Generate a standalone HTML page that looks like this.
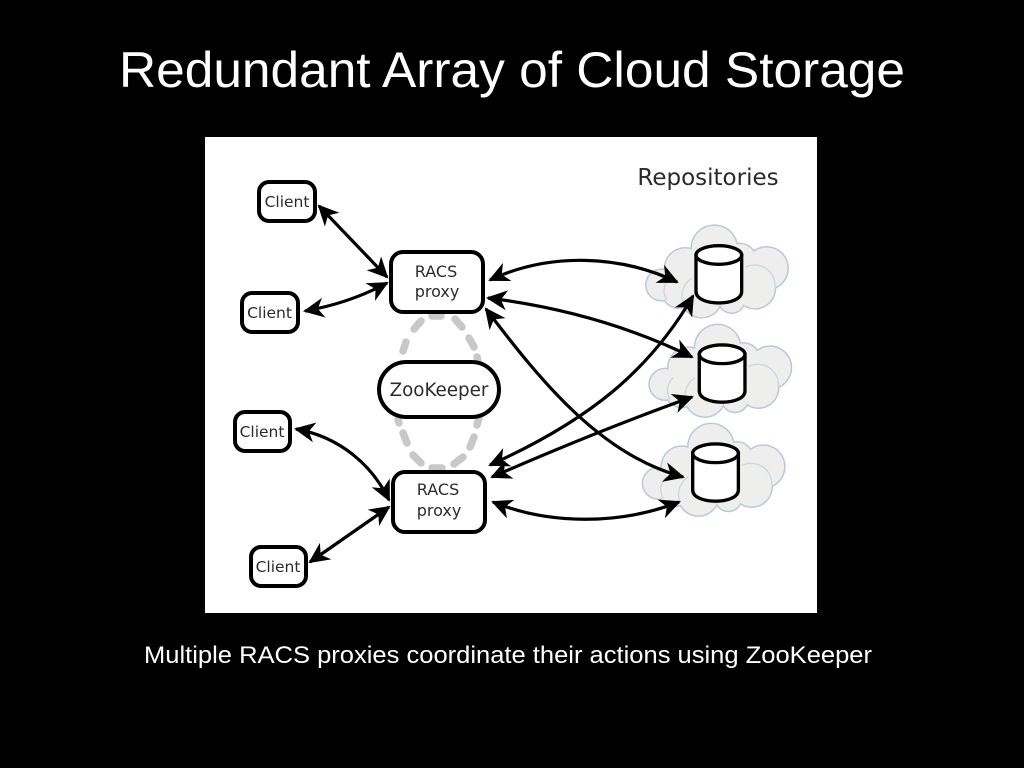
<!DOCTYPE html>
<html>
<head>
<meta charset="utf-8">
<style>
html,body{margin:0;padding:0;background:#000;width:1024px;height:768px;overflow:hidden}
svg{display:block}
.n{fill:#fff;stroke:#000;stroke-width:4}
.t{font-family:"DejaVu Sans",sans-serif;fill:#2b2b2b;text-anchor:middle}
.a{fill:none;stroke:#000;stroke-width:3.2;marker-start:url(#h);marker-end:url(#h)}
.d{stroke:#c8c8c8;stroke-width:7.5;stroke-linecap:round;fill:none}
.o circle{fill:#b9c9dc}
.f circle,.f ellipse{fill:#eeeeec}
.i{fill:none;stroke:#cdd6e0;stroke-width:4}
.cy{fill:#fff;stroke:#000;stroke-width:10}
</style>
</head>
<body>
<svg width="1024" height="768" viewBox="0 0 1024 768" xmlns="http://www.w3.org/2000/svg">
<defs>
<marker id="h" markerUnits="userSpaceOnUse" markerWidth="28" markerHeight="24" viewBox="-24 -12 28 24" refX="0" refY="0" orient="auto-start-reverse">
<path d="M2,0 L-19,-10 L-13,0 L-19,10 Z" fill="#000"/>
</marker>
<g id="cloud">
<g class="o">
<circle cx="283" cy="115" r="72"/>
<circle cx="125" cy="225" r="50"/>
<circle cx="195" cy="175" r="64"/>
<circle cx="360" cy="150" r="52"/>
<circle cx="440" cy="175" r="67"/>
<circle cx="405" cy="235" r="64"/>
<circle cx="175" cy="245" r="52"/>
<circle cx="335" cy="270" r="42"/>
<circle cx="245" cy="262" r="64"/>
</g>
<g class="f">
<circle cx="283" cy="115" r="67.500"/>
<circle cx="125" cy="225" r="45.500"/>
<circle cx="195" cy="175" r="59.500"/>
<circle cx="360" cy="150" r="47.500"/>
<circle cx="440" cy="175" r="62.500"/>
<circle cx="405" cy="235" r="59.500"/>
<circle cx="175" cy="245" r="47.500"/>
<circle cx="335" cy="270" r="37.500"/>
<circle cx="245" cy="262" r="59.500"/>
<ellipse cx="300" cy="200" rx="120" ry="80"/>
</g>
<path class="i" d="M375,172 A62,62 0 0 1 465,235"/>
<path class="i" d="M215,205 A62,62 0 0 0 190,280"/>
<path class="i" d="M150,205 A50,50 0 0 0 140,270"/>
</g>
<g id="cyl">
<path class="cy" d="M228,135 V245 C228,290 365,290 365,245 V135 Z"/>
<ellipse class="cy" cx="296.500" cy="135" rx="68.500" ry="28"/>
</g>
</defs>

<rect x="0" y="0" width="1024" height="768" fill="#000"/>
<text x="119" y="87" font-family="'Liberation Sans',sans-serif" font-size="50" fill="#fff" textLength="786" lengthAdjust="spacingAndGlyphs">Redundant Array of Cloud Storage</text>

<rect x="205" y="137" width="612" height="476" fill="#fff"/>

<g transform="translate(620,210) scale(0.33333)">
<use href="#cloud"/>
<use href="#cyl"/>
</g>
<g transform="translate(623.300,309.300) scale(0.33333)">
<use href="#cloud"/>
<use href="#cyl"/>
</g>
<g transform="translate(616.700,408.300) scale(0.33333)">
<use href="#cloud"/>
<use href="#cyl"/>
</g>

<text class="t" x="708" y="185" font-size="23">Repositories</text>

<g class="d">
<path d="M432,316H441"/>
<path d="M414,329L421,321"/>
<path d="M403,351L406,342"/>
<path d="M455,319L462,327"/>
<path d="M469,338L474,347"/>
<path d="M477,357L478,362"/>
<path d="M398,420L399,423"/>
<path d="M403,433L407,443"/>
<path d="M413,455L421,463"/>
<path d="M432,468H442"/>
<path d="M454,464L463,457"/>
<path d="M470,447L474,437"/>
<path d="M477,425L479,418"/>
</g>

<rect class="n" x="259" y="182" width="56" height="39" rx="10"/>
<text class="t" x="287" y="207" font-size="15.500">Client</text>
<rect class="n" x="242" y="293" width="56" height="39" rx="10"/>
<text class="t" x="269.500" y="318" font-size="15.500">Client</text>
<rect class="n" x="235" y="412" width="55" height="39" rx="10"/>
<text class="t" x="262" y="437" font-size="15.500">Client</text>
<rect class="n" x="251" y="547" width="55" height="39" rx="10"/>
<text class="t" x="278" y="572" font-size="15.500">Client</text>

<rect class="n" x="391" y="252" width="92" height="60" rx="12"/>
<text class="t" x="436" y="277" font-size="16">RACS</text>
<text class="t" x="437" y="297" font-size="16">proxy</text>

<rect class="n" x="393" y="472" width="92" height="60" rx="12"/>
<text class="t" x="438" y="495" font-size="16">RACS</text>
<text class="t" x="439" y="516" font-size="16">proxy</text>

<rect class="n" x="379" y="362" width="120" height="55" rx="27.500"/>
<text class="t" x="439" y="396" font-size="18.300">ZooKeeper</text>

<path class="a" d="M319,206 L387,277"/>
<path class="a" d="M305,311 Q350,303 387,283"/>
<path class="a" d="M296,429 C340,437 372,465 389,500"/>
<path class="a" d="M310,562 L389,507"/>
<path class="a" d="M490,280 C550,252 620,255 677,282"/>
<path class="a" d="M488,298 Q600,312 692,357"/>
<path class="a" d="M486,309 C540,380 600,455 683,477"/>
<path class="a" d="M490,465 C590,420 650,370 693,296"/>
<path class="a" d="M492,477 Q600,430 692,397"/>
<path class="a" d="M493,502 C550,525 620,525 679,502"/>

<text x="144" y="663" font-family="'Liberation Sans',sans-serif" font-size="24" fill="#fff" textLength="728" lengthAdjust="spacingAndGlyphs">Multiple RACS proxies coordinate their actions using ZooKeeper</text>
</svg>
</body>
</html>
